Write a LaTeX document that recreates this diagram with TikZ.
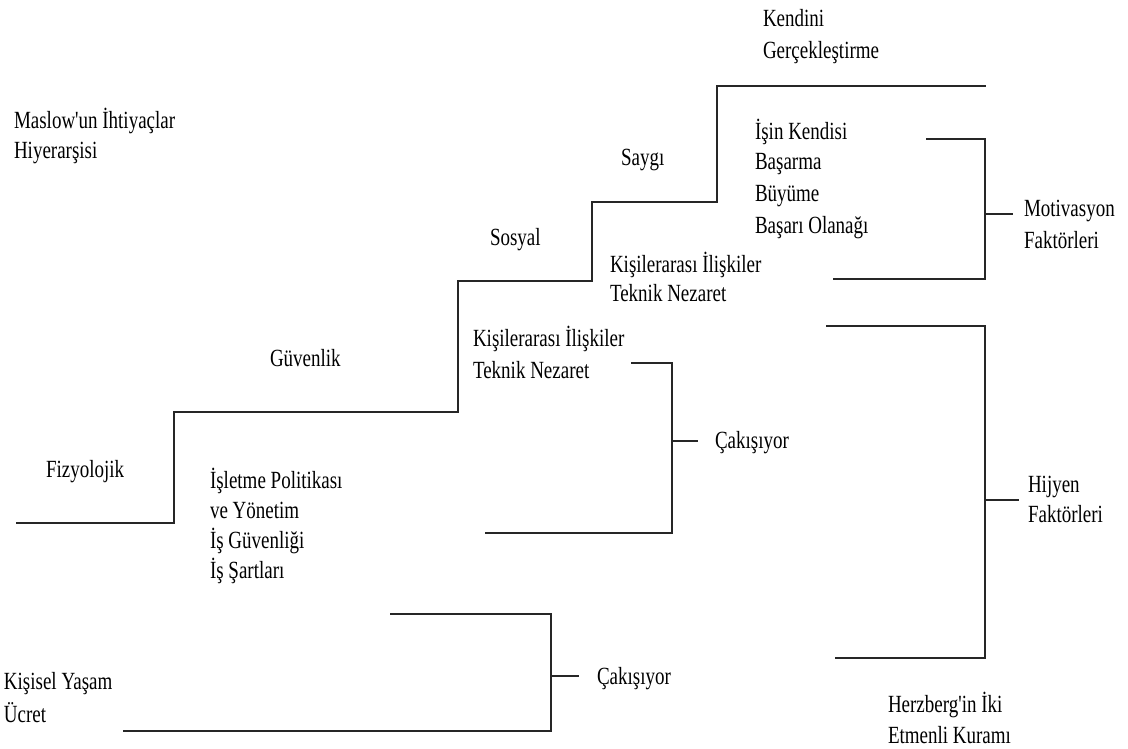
\documentclass[tikz,border=0pt]{standalone}
\usepackage{fontspec}
\setmainfont{Liberation Serif}
\begin{document}
\begin{tikzpicture}[x=1pt,y=-1pt,
  lbl/.style={anchor=base west,inner sep=0pt,outer sep=0pt,yscale=1.3,
    font=\fontsize{19}{19}\selectfont,text=black},
  rule/.style={draw=black!85,line width=1.6pt,line join=miter}]
\useasboundingbox[fill=white] (0,0) rectangle (1128,749);

% staircase corners (Maslow)
\coordinate (s0) at (16,523);
\coordinate (s1) at (174,523);
\coordinate (s2) at (174,412);
\coordinate (s3) at (458,412);
\coordinate (s4) at (458,281);
\coordinate (s5) at (592,281);
\coordinate (s6) at (592,202);
\coordinate (s7) at (717,202);
\coordinate (s8) at (717,86);
\coordinate (s9) at (986,86);
\draw[rule] (s0) -- (s1) -- (s2) -- (s3) -- (s4) -- (s5) -- (s6) -- (s7) -- (s8) -- (s9);

% motivation bracket
\coordinate (m0) at (926,139);
\coordinate (m1) at (985,139);
\coordinate (m2) at (985,279);
\coordinate (m3) at (833,279);
\coordinate (mt0) at (985,214);
\coordinate (mt1) at (1013,214);
\draw[rule] (m0) -- (m1) -- (m2) -- (m3);
\draw[rule] (mt0) -- (mt1);

% hygiene bracket
\coordinate (h0) at (826,326);
\coordinate (h1) at (985,326);
\coordinate (h2) at (985,658);
\coordinate (h3) at (835,658);
\coordinate (ht0) at (985,500);
\coordinate (ht1) at (1019,500);
\draw[rule] (h0) -- (h1) -- (h2) -- (h3);
\draw[rule] (ht0) -- (ht1);

% first overlap bracket
\coordinate (c0) at (631,363);
\coordinate (c1) at (672,363);
\coordinate (c2) at (672,533);
\coordinate (c3) at (485,533);
\coordinate (ct0) at (672,441);
\coordinate (ct1) at (698,441);
\draw[rule] (c0) -- (c1) -- (c2) -- (c3);
\draw[rule] (ct0) -- (ct1);

% second overlap bracket
\coordinate (d0) at (390,614);
\coordinate (d1) at (551,614);
\coordinate (d2) at (551,731);
\coordinate (d3) at (123,731);
\coordinate (dt0) at (551,676);
\coordinate (dt1) at (579,676);
\draw[rule] (d0) -- (d1) -- (d2) -- (d3);
\draw[rule] (dt0) -- (dt1);

% labels
\node[lbl] (maslowA) at (14,129) {Maslow\textquotesingle un İhtiyaçlar};
\node[lbl] (maslowB) at (14,159) {Hiyerarşisi};
\node[lbl] (kendA) at (763,27) {Kendini};
\node[lbl] (kendB) at (763,59) {Gerçekleştirme};
\node[lbl] (saygi) at (621,166) {Saygı};
\node[lbl] (sosyal) at (490,245) {Sosyal};
\node[lbl] (guven) at (270,366) {Güvenlik};
\node[lbl] (fizyo) at (46,477) {Fizyolojik};

\node[lbl] (isin) at (755,140) {İşin Kendisi};
\node[lbl] (basarma) at (755,170) {Başarma};
\node[lbl] (buyume) at (755,202) {Büyüme};
\node[lbl] (olanak) at (755,233) {Başarı Olanağı};

\node[lbl] (kisiA) at (610,272) {Kişilerarası İlişkiler};
\node[lbl] (teknA) at (610,301) {Teknik Nezaret};
\node[lbl] (kisiB) at (473,346) {Kişilerarası İlişkiler};
\node[lbl] (teknB) at (473,378) {Teknik Nezaret};

\node[lbl] (isletme) at (210,488) {İşletme Politikası};
\node[lbl] (yonetim) at (210,518) {ve Yönetim};
\node[lbl] (guvenlik) at (210,548) {İş Güvenliği};
\node[lbl] (sartlar) at (210,578) {İş Şartları};

\node[lbl] (motA) at (1024,217) {Motivasyon};
\node[lbl] (motB) at (1024,248) {Faktörleri};
\node[lbl] (hijA) at (1028,492) {Hijyen};
\node[lbl] (hijB) at (1028,522) {Faktörleri};

\node[lbl] (cak1) at (715,448) {Çakışıyor};
\node[lbl] (cak2) at (597,684) {Çakışıyor};

\node[lbl] (kisisel) at (4,689) {Kişisel Yaşam};
\node[lbl] (ucret) at (4,722) {Ücret};
\node[lbl] (herzA) at (888,712) {Herzberg\textquotesingle in İki};
\node[lbl] (herzB) at (888,743) {Etmenli Kuramı};
\end{tikzpicture}
\end{document}
